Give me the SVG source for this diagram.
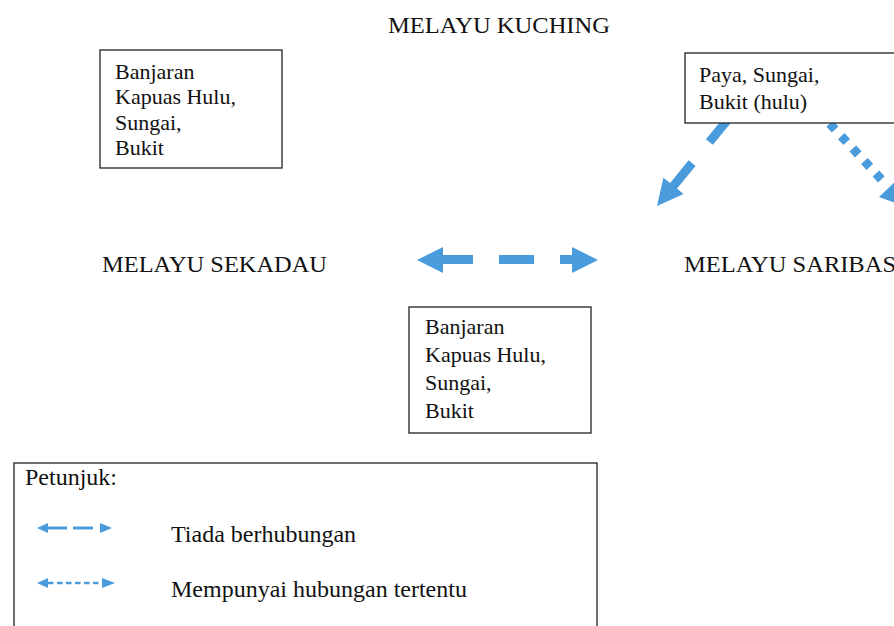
<svg xmlns="http://www.w3.org/2000/svg" width="894" height="626" viewBox="0 0 894 626">
<style>
text{font-family:"Liberation Serif","Times New Roman",serif;fill:#111}
.t{font-size:24px}
.b{font-size:22px}
.l{font-size:24px}
.box{fill:#fff;stroke:#222;stroke-width:1.3}
.ar{fill:#4A9BDC}
.sh{stroke:#4A9BDC;fill:none;stroke-linecap:butt}
</style>
<rect width="894" height="626" fill="#fff"/>
<g id="connectors">
  <!-- Sekadau <-> Saribas: tiada berhubungan -->
  <polygon class="ar" points="417,260 443,247 443,273"/>
  <line class="sh" x1="443" y1="259.5" x2="473" y2="259.5" stroke-width="9"/>
  <line class="sh" x1="499" y1="259.5" x2="534" y2="259.5" stroke-width="9"/>
  <line class="sh" x1="560" y1="259.5" x2="573" y2="259.5" stroke-width="9"/>
  <polygon class="ar" points="572,247 598,260 572,273"/>
  <!-- Kuching box -> down-left dashed -->
  <line class="sh" x1="730.6" y1="116.2" x2="709.4" y2="142" stroke-width="9"/>
  <line class="sh" x1="692.1" y1="163.2" x2="673" y2="186.5" stroke-width="9"/>
  <polygon class="ar" points="683.6,194.1 657,206 663.4,177.7"/>
  <!-- Kuching box -> down-right dotted -->
  <line class="sh" x1="806.6" y1="98.7" x2="886.8" y2="185.2" stroke-width="9" stroke-dasharray="8 9"/>
  <polygon class="ar" points="898,179 906,207 879,197"/>
</g>
<g id="title">
  <text class="t" x="388" y="33" textLength="222" lengthAdjust="spacingAndGlyphs">MELAYU KUCHING</text>
</g>
<g id="sekadau">
  <text class="t" x="102" y="272" textLength="225" lengthAdjust="spacingAndGlyphs">MELAYU SEKADAU</text>
</g>
<g id="saribas">
  <text class="t" x="684" y="272" textLength="212" lengthAdjust="spacingAndGlyphs">MELAYU SARIBAS</text>
</g>
<g id="box-sekadau">
  <rect class="box" x="100" y="50" width="182" height="118"/>
  <text class="b" x="115" y="79">Banjaran</text>
  <text class="b" x="115" y="104.3">Kapuas Hulu,</text>
  <text class="b" x="115" y="129.6">Sungai,</text>
  <text class="b" x="115" y="154.9">Bukit</text>
</g>
<g id="box-kuching">
  <rect class="box" x="685" y="53" width="220" height="70"/>
  <text class="b" x="699" y="81.7">Paya, Sungai,</text>
  <text class="b" x="699" y="109.3">Bukit (hulu)</text>
</g>
<g id="box-middle">
  <rect class="box" x="409" y="307" width="182" height="126"/>
  <text class="b" x="425" y="334.3">Banjaran</text>
  <text class="b" x="425" y="362.1">Kapuas Hulu,</text>
  <text class="b" x="425" y="389.9">Sungai,</text>
  <text class="b" x="425" y="417.7">Bukit</text>
</g>
<g id="legend">
  <rect class="box" x="14" y="463" width="583" height="180"/>
  <text class="l" x="25" y="485">Petunjuk:</text>
  <polygon class="ar" points="37,528 48,523 48,533"/>
  <line class="sh" x1="48" y1="528" x2="67" y2="528" stroke-width="3"/>
  <line class="sh" x1="73" y1="528" x2="93" y2="528" stroke-width="3"/>
  <polygon class="ar" points="100,523 112,528 100,533"/>
  <text class="l" x="171" y="542">Tiada berhubungan</text>
  <polygon class="ar" points="37,583 48,578 48,588"/>
  <line class="sh" x1="48" y1="583" x2="102" y2="583" stroke-width="2.5" stroke-dasharray="5.5 3.5"/>
  <polygon class="ar" points="102,578 115,583 102,588"/>
  <text class="l" x="171" y="597">Mempunyai hubungan tertentu</text>
</g>
</svg>
